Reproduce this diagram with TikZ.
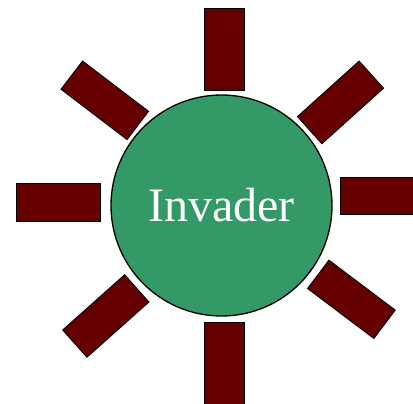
\documentclass[tikz,border=0pt]{standalone}
\usepackage{fontspec}
\setmainfont{Liberation Serif}
\definecolor{raycol}{HTML}{660000}
\definecolor{bodycol}{HTML}{339966}
\begin{document}
\begin{tikzpicture}[x=1bp,y=-1bp,
  ray/.style={draw=black, line width=0.9bp, fill=raycol, inner sep=0pt,
    minimum width=83bp, minimum height=37bp},
  body/.style={circle, draw=black, line width=1.3bp, fill=bodycol, inner sep=0pt,
    minimum size=221bp, text=white, font=\fontsize{48bp}{48bp}\selectfont}]
\useasboundingbox (0,0) rectangle (413,404);
\node[body] (invader) at (221.5,205.5) {Invader};
\node[ray, minimum width=40bp, minimum height=82bp] (rtop) at (224.7,49) {};
\node[ray, minimum width=40bp, minimum height=82bp] (rbottom) at (224.7,363) {};
\node[ray, minimum width=84bp, minimum height=38bp] (rleft) at (58.5,202) {};
\node[ray, minimum width=84bp, minimum height=37bp] (rright) at (382,196) {};
\node[ray, rotate=-37.3, minimum height=35.5bp] (rul) at (104.8,100.3) {};
\node[ray, rotate=42, minimum height=36.5bp] (rur) at (340.5,102.4) {};
\node[ray, rotate=41.7, minimum height=36.5bp] (rll) at (105.8,316) {};
\node[ray, rotate=-37, minimum height=35.5bp] (rlr) at (351.4,299.3) {};
\end{tikzpicture}
\end{document}
